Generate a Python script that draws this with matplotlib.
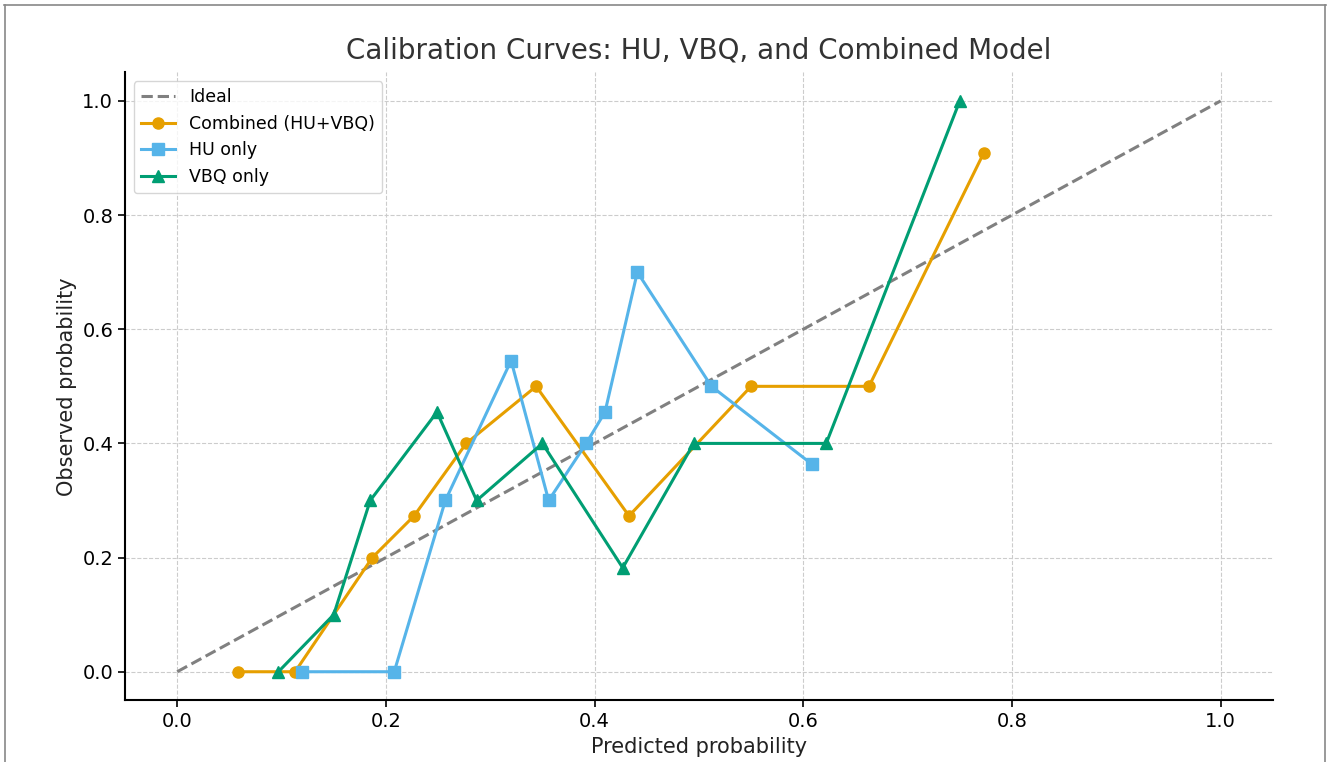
import matplotlib
matplotlib.use('Agg')
import matplotlib.pyplot as plt
from matplotlib.lines import Line2D

# calibration points
comb_x = [0.058, 0.113, 0.187, 0.227, 0.277, 0.344, 0.433, 0.550, 0.663, 0.773]
comb_y = [0.0, 0.0, 0.2, 0.273, 0.4, 0.5, 0.273, 0.5, 0.5, 0.909]

hu_x = [0.120, 0.208, 0.257, 0.320, 0.356, 0.392, 0.410, 0.441, 0.512, 0.608]
hu_y = [0.0, 0.0, 0.3, 0.545, 0.3, 0.4, 0.455, 0.7, 0.5, 0.364]

vbq_x = [0.097, 0.150, 0.185, 0.249, 0.287, 0.350, 0.427, 0.495, 0.622, 0.750]
vbq_y = [0.0, 0.1, 0.3, 0.455, 0.3, 0.4, 0.182, 0.4, 0.4, 1.0]

ideal = [0, 1]

plt.rcParams['font.family'] = 'DejaVu Sans'
plt.rcParams['axes.spines.top'] = False
plt.rcParams['axes.spines.right'] = False

fig, ax = plt.subplots(figsize=(13.3, 7.62), dpi=100)
fig.subplots_adjust(left=0.094, right=0.957, top=0.905, bottom=0.081)

ax.plot(ideal, ideal, ls='--', c='gray', lw=2.2, label='Ideal')
ax.plot(comb_x, comb_y, marker='o', c='#E69F00', lw=2.2, ms=8,
        label='Combined (HU+VBQ)')
ax.plot(hu_x, hu_y, marker='s', c='#56B4E9', lw=2.2, ms=8, label='HU only')
ax.plot(vbq_x, vbq_y, marker='^', c='#009E73', lw=2.2, ms=8,
        label='VBQ only')

ax.grid(lw=0.8, ls='--', color='#cccccc')
ax.set_axisbelow(True)
ax.set_xlim([-0.05, 1.05])
ax.set_ylim([-0.05, 1.05])
ax.set_xticks([0.0, 0.2, 0.4, 0.6, 0.8, 1.0])
ax.set_yticks([0.0, 0.2, 0.4, 0.6, 0.8, 1.0])
ax.tick_params(labelsize=14, length=5, width=1.2)
for s in ['left', 'bottom']:
    ax.spines[s].set_linewidth(1.5)
ax.set_xlabel('Predicted probability', fontsize=15, color='#222222')
ax.set_ylabel('Observed probability', fontsize=15, color='#222222')
ax.set_title('Calibration Curves: HU, VBQ, and Combined Model',
             fontsize=20, color='#333333', pad=10)
ax.legend(loc='upper left', fontsize=12.5)

# thin frame round the picture, as in the screenshot
for xs, ys in [([0.003, 0.997], [0.993, 0.993]),
               ([0.004, 0.004], [0.0, 0.993]),
               ([0.996, 0.996], [0.0, 0.993])]:
    fig.add_artist(Line2D(xs, ys, transform=fig.transFigure,
                          color='#888888', lw=1.2))

plt.savefig('out.png', dpi=100)
